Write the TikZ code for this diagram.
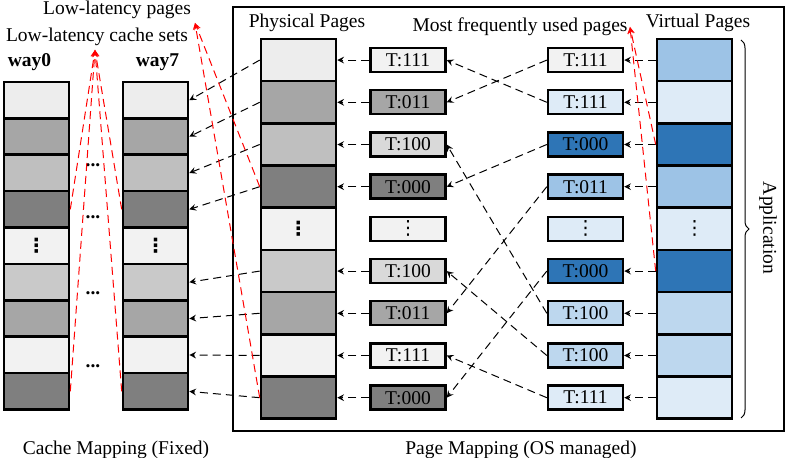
\documentclass[tikz,border=0pt]{standalone}
\usepackage{fontspec}
\setmainfont{Liberation Serif}
\newfontfamily\dotfont{DejaVu Sans}
\usepackage{tikz}
\usetikzlibrary{arrows}
\usetikzlibrary{decorations.pathreplacing}
\definecolor{pgA}{HTML}{EDEDED}
\definecolor{pgB}{HTML}{A6A6A6}
\definecolor{pgC}{HTML}{BFBFBF}
\definecolor{pgD}{HTML}{7F7F7F}
\definecolor{pgE}{HTML}{F2F2F2}
\definecolor{pgF}{HTML}{C9C9C9}
\definecolor{pgG}{HTML}{D9D9D9}
\definecolor{blA}{HTML}{9DC3E6}
\definecolor{blB}{HTML}{DEEBF7}
\definecolor{blC}{HTML}{2E75B6}
\definecolor{blD}{HTML}{BDD7EE}
\newcommand{\vdts}{{\dotfont ⋮}}

\begin{document}
\begin{tikzpicture}[x=0.5pt,y=-0.5pt,
  font=\fontsize{9.75}{11.7}\selectfont,
  cell/.style={draw,line width=1.3pt,inner sep=0pt},
  waycell/.style={cell,minimum width=32.5pt,minimum height=18.2pt},
  pagecell/.style={cell,minimum width=37.5pt,minimum height=21.1pt},
  tag/.style={draw,line width=1.2pt,minimum width=37.5pt,minimum height=12pt,inner sep=0pt},
  map/.style={-{stealth[scale=1.4]},line width=0.5pt,dash pattern=on 4pt off 2.5pt},
  hot/.style={map,red}]
  \useasboundingbox (0,0) rectangle (789,458);
  \draw[line width=1pt] (233,7) rectangle (784,431);
  % cache ways and physical pages
  \foreach \c [count=\i] in {pgA,pgB,pgC,pgD,pgE,pgF,pgB,pgE,pgD} {
    \node[waycell,fill=\c] (w0-\i) at (36.5,{82+36.4*(\i-0.5)}) {};
    \node[waycell,fill=\c] (w7-\i) at (155.5,{82+36.4*(\i-0.5)}) {};
    \node[pagecell,fill=\c] (pp-\i) at (298.5,{39+42.2*(\i-0.5)}) {};
  }
  \foreach \n in {w0-5,w7-5,pp-5}
    \node[inner sep=0pt] at (\n) {\bfseries\vdts};
  \foreach \y in {165,217,293,366}
    \node[inner sep=0pt] at (93,\y) {\bfseries ...};
  % tags
  \foreach \t/\c [count=\i] in {T:111/pgE,T:011/pgB,T:100/pgG,T:000/pgD,\vdts/pgE,T:100/pgG,T:011/pgB,T:111/pgE,T:000/pgD}
    \node[tag,fill=\c] (pt-\i) at (408,{39+42.2*(\i-0.5)}) {\t};
  \foreach \t/\c [count=\i] in {T:111/pgE,T:111/blB,T:000/blC,T:011/blA,\vdts/blB,T:000/blC,T:100/blD,T:100/blD,T:111/blB}
    \node[tag,fill=\c] (vt-\i) at (585.5,{39+42.2*(\i-0.5)}) {\t};
  % virtual pages
  \foreach \c [count=\i] in {blA,blB,blC,blA,blB,blC,blD,blD,blB}
    \node[pagecell,fill=\c] (vp-\i) at (694.5,{39+42.2*(\i-0.5)}) {};
  \node[inner sep=0pt] at (vp-5) {\vdts};
  % labels
  \node (lpg) at (117,10) {Low-latency pages};
  \node (lcs) at (97,37) {Low-latency cache sets};
  \node (way0) at (29.5,62) {\bfseries way0};
  \node (way7) at (157.5,62) {\bfseries way7};
  \node (phys) at (307,23) {Physical Pages};
  \node (mfu) at (520,27) {Most frequently used pages};
  \node (virt) at (698,23) {Virtual Pages};
  \node (cmap) at (116,450) {Cache Mapping (Fixed)};
  \node (pmap) at (521,450) {Page Mapping (OS managed)};
  \draw[decorate,decoration={brace,amplitude=4pt},line width=0.5pt] (741,40) -- (741,418);
  \node[rotate=-90] (app) at (768,228) {Application};
  % mappings
  \foreach \i in {1,2,3,4,6,7,8,9} {
    \draw[map] (vp-\i.west) -- (vt-\i.east);
    \draw[map] (pt-\i.west) -- (pp-\i.east);
    \draw[map] (pp-\i.west) -- (w7-\i.east);
  }
  \foreach \a/\b in {2/1,1/2,7/3,3/4,8/6,4/7,9/8,6/9}
    \draw[map] (vt-\a.west) -- (pt-\b.east);
  % low-latency marks
  \coordinate (csets) at (95,50);
  \coordinate (lpages) at (195,23);
  \coordinate (mfused) at (630,27);
  \foreach \n in {w0-4.east,w0-9.east,w7-4.west,w7-9.west}
    \draw[hot] (\n) -- (csets);
  \foreach \n in {pp-4.west,pp-9.west}
    \draw[hot] (\n) -- (lpages);
  \foreach \n in {vp-3.west,vp-6.west}
    \draw[hot] (\n) -- (mfused);
\end{tikzpicture}
\end{document}
